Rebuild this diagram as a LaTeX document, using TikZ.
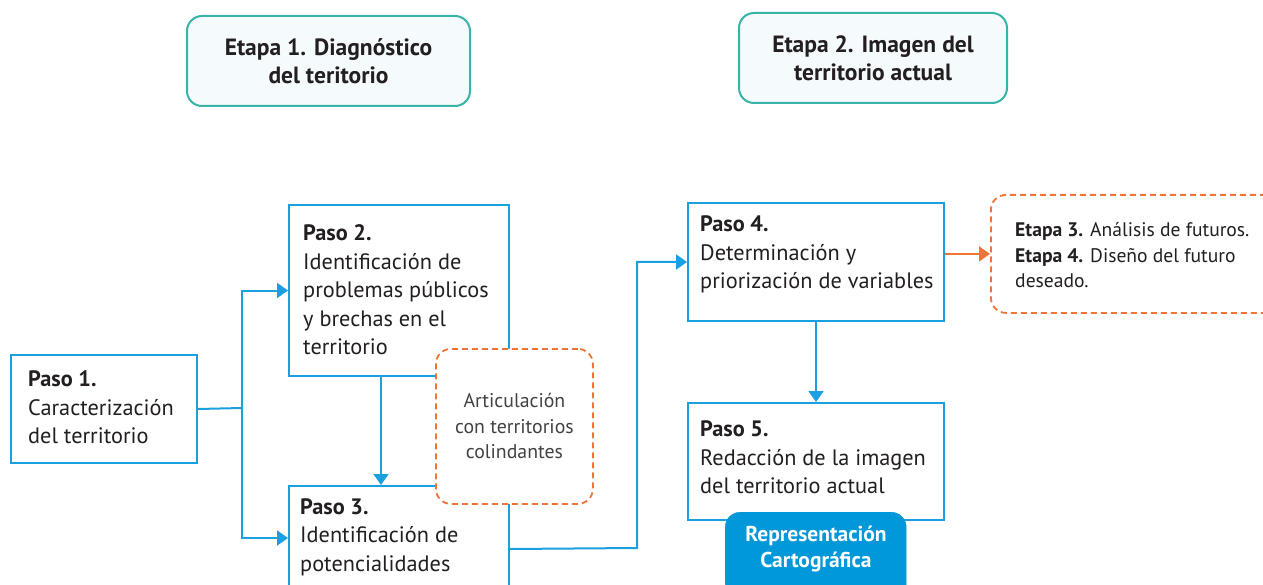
\documentclass[tikz,border=0pt]{standalone}
\usepackage{fontspec}
\setmainfont{PT Sans}
\usetikzlibrary{arrows.meta}
\definecolor{cblue}{HTML}{1AA0E0}
\definecolor{cfill}{HTML}{0098D8}
\definecolor{corange}{HTML}{F07435}
\definecolor{cteal}{HTML}{38B4A8}
\definecolor{clight}{HTML}{F5FAFC}
\definecolor{ctext}{HTML}{231F20}
\tikzset{
  pbox/.style={draw=cblue, line width=2pt, fill=white, inner sep=0pt, anchor=north west},
  etbox/.style={draw=cteal, line width=2pt, fill=clight, rounded corners=15pt, inner sep=0pt, anchor=north west},
  dbox/.style={draw=corange, line width=1.8pt, dash pattern=on 6pt off 4pt, fill=white, rounded corners=15pt, inner sep=0pt, anchor=north west},
  ptext/.style={text=ctext, font=\fontsize{22.3}{28.5}\selectfont, align=left, inner sep=0pt, anchor=west},
  ettext/.style={text=ctext, font=\fontsize{23.5}{28}\selectfont\bfseries, align=center, inner sep=0pt},
  conn/.style={draw=cblue, line width=2pt},
  arr/.style={conn, -{Triangle[length=11pt, width=15pt]}},
  oarr/.style={draw=corange, line width=2pt, -{Triangle[length=11pt, width=15pt]}},
}
\begin{document}
\begin{tikzpicture}[x=1pt,y=-1pt]
\clip (0,0) rectangle (1263,585);
% stage boxes
\node[etbox, minimum width=283pt, minimum height=90pt] (e1) at (186,15) {};
\node[ettext] (e1t) at (e1.center) {Etapa 1. Diagnóstico\\del teritorio};
\node[etbox, minimum width=268pt, minimum height=90pt] (e2) at (738,12) {};
\node[ettext] (e2t) at (e2.center) {Etapa 2. Imagen del\\territorio actual};
% steps
\node[pbox, minimum width=186pt, minimum height=108pt] (p1) at (10,354) {};
\node[ptext] (p1t) at (28,407.5) {\textbf{Paso 1.}\\Caracterización\\del territorio};
\node[pbox, minimum width=220pt, minimum height=171pt] (p2) at (288,204) {};
\node[ptext] (p2t) at (303,290) {\textbf{Paso 2.}\\Identificación de\\problemas públicos\\y brechas en el\\territorio};
\node[pbox, minimum width=220pt, minimum height=104pt] (p3) at (288,485) {};
\node[ptext] (p3t) at (300,537) {\textbf{Paso 3.}\\Identificación de\\potencialidades};
\node[pbox, minimum width=256pt, minimum height=118pt] (p4) at (687,202) {};
\node[ptext] (p4t) at (700,254.5) {\textbf{Paso 4.}\\Determinación y\\priorización de variables};
\node[pbox, minimum width=256pt, minimum height=117pt] (p5) at (687,402) {};
\node[ptext] (p5t) at (700,457.5) {\textbf{Paso 5.}\\Redacción de la imagen\\del territorio actual};
% articulation
\node[dbox, minimum width=157pt, minimum height=155pt, align=center, text=ctext!85,
      font=\fontsize{19.8}{25.5}\selectfont] (art) at (435,348) {Articulación\\con territorios\\colindantes};
% etapa 3/4
\node[dbox, minimum width=300pt, minimum height=118pt] (e3) at (990,194) {};
\node[ptext, font=\fontsize{19.6}{25.5}\selectfont] (e3t) at (1015,255.5) {\textbf{Etapa 3.} Análisis de futuros.\\\textbf{Etapa 4.} Diseño del futuro\\deseado.};
% representacion
\node[draw=cfill, fill=cfill, rounded corners=15pt, inner sep=0pt, anchor=north west,
      minimum width=181pt, minimum height=86pt] (rep) at (725,512) {};
\node[text=white, font=\fontsize{21.5}{26}\selectfont\bfseries, align=center, inner sep=0pt] (rept) at (816,549) {Representación\\Cartográfica};
% connectors
\coordinate (j1) at (242,408);
\coordinate (j2) at (637,548);
\draw[conn] (p1.east) -- (j1);
\draw[arr] (j1) |- (p2.west);
\draw[arr] (j1) |- (p3.west);
\draw[arr] ([xshift=-18pt]p2.south) -- ([xshift=-18pt]p2.south |- p3.north);
\draw[arr] ([yshift=-11pt]p3.east) -- (j2) |- (p4.west);
\draw[arr] (p4.south) -- (p5.north);
\draw[oarr] (p4.east |- e3.west) -- (e3.west);
\end{tikzpicture}
\end{document}
